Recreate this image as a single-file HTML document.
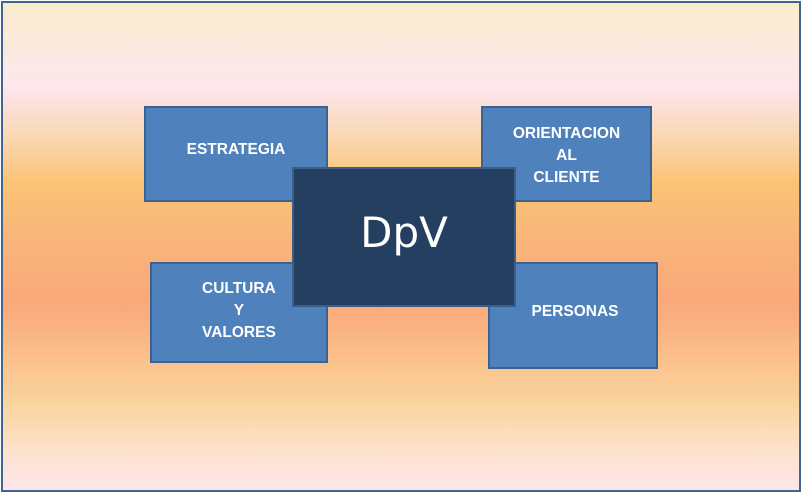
<!DOCTYPE html>
<html><head><meta charset="utf-8"><style>
html,body{margin:0;padding:0;}
body{width:802px;height:493px;position:relative;overflow:hidden;background:#fff;font-family:"Liberation Sans",sans-serif;}
.bg{position:absolute;left:1px;top:1px;width:796px;height:487px;border:2px solid #3f6592;
background:linear-gradient(to bottom,#fbeccc 0px,#fde6ee 85px,#fad8b8 130px,#fac474 180px,#f9b47a 240px,#faa87a 300px,#fbc28e 360px,#fad49c 400px,#fde2cf 450px,#fde6ea 490px);}
.b{position:absolute;box-sizing:border-box;background:#4f81bd;border:2px solid #3b6391;color:#fff;display:flex;align-items:center;justify-content:center;text-align:center;font-size:15.5px;font-weight:bold;line-height:22px;}
.c{background:#243f60;border-color:#3a5e8a;font-family:"DejaVu Sans",sans-serif;font-weight:normal;font-size:42px;line-height:42px;}
</style></head><body>
<div class="bg"></div>
<div class="b" style="left:144px;top:106px;width:184px;height:96px;padding-bottom:8px;">ESTRATEGIA</div>
<div class="b" style="left:481px;top:106px;width:171px;height:96px;align-items:flex-start;padding-top:15px;">ORIENTACION<br>AL<br>CLIENTE</div>
<div class="b" style="left:150px;top:262px;width:178px;height:101px;justify-content:flex-start;padding-left:50px;padding-bottom:4px;">CULTURA<br>Y<br>VALORES</div>
<div class="b" style="left:488px;top:262px;width:170px;height:107px;padding-bottom:8px;padding-left:4px;">PERSONAS</div>
<div class="b c" style="left:292px;top:167px;width:224px;height:140px;padding-bottom:8px;">DpV</div>
</body></html>
